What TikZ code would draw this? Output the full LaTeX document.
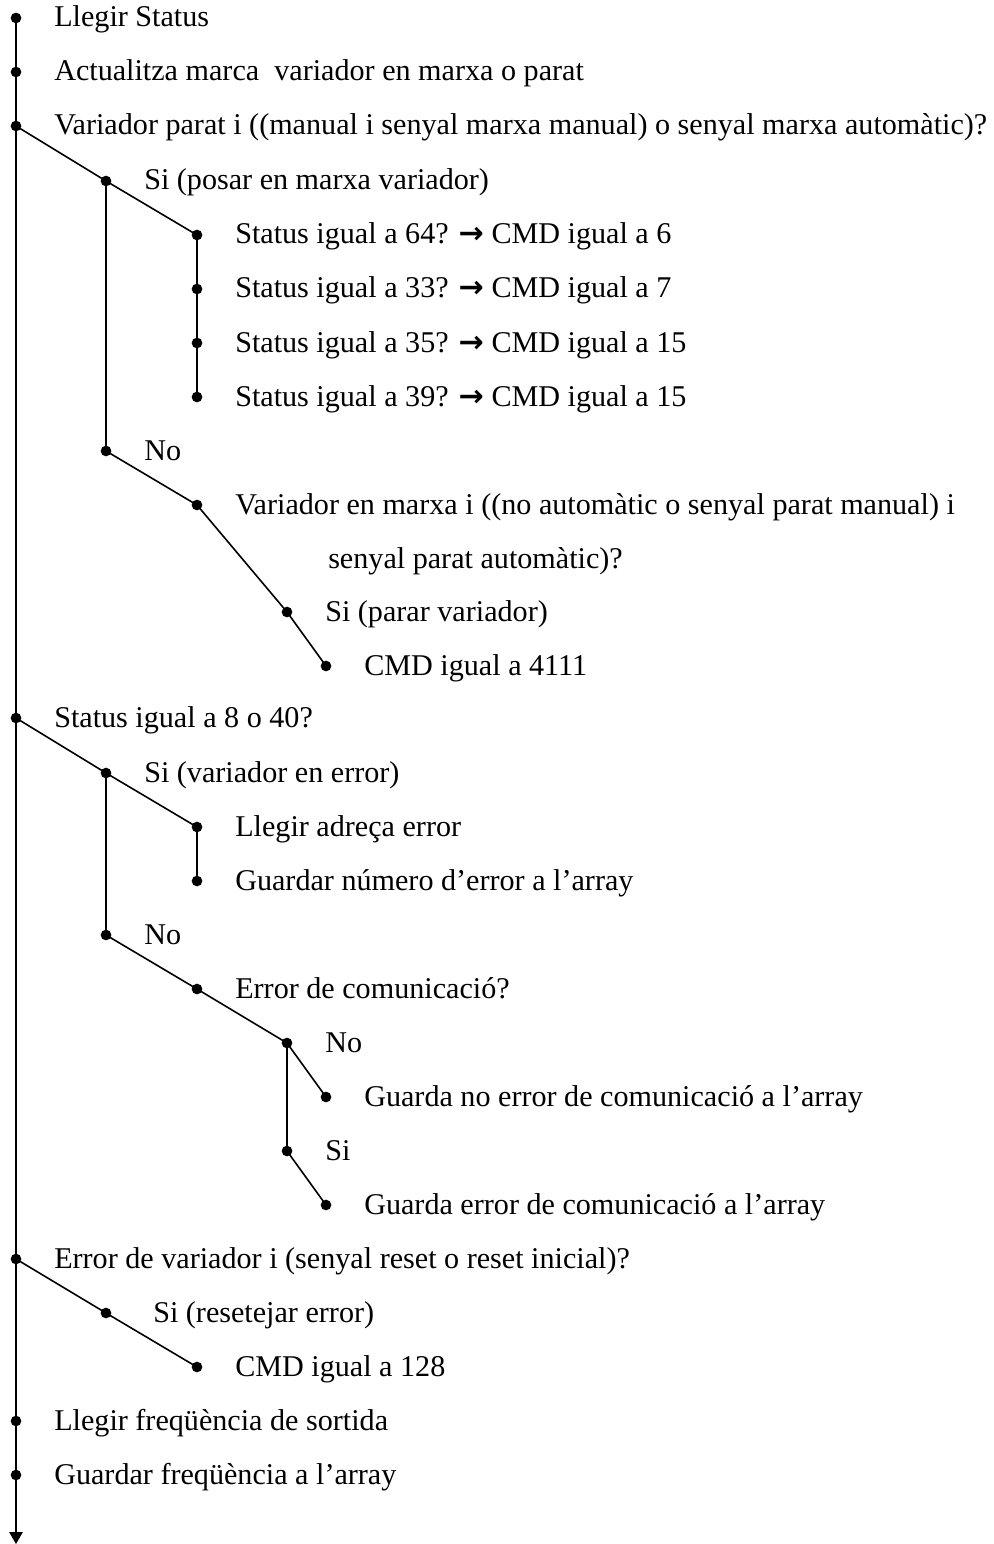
\documentclass[tikz,border=0pt]{standalone}
\usepackage{fontspec}
\setmainfont{Liberation Serif}
\newfontfamily\arrowfont{DejaVu Sans}
\usetikzlibrary{arrows.meta}
\tikzset{
  dot/.style={circle, fill=black, inner sep=0pt, minimum size=8pt},
  lbl/.style={anchor=base west, inner sep=0pt, font=\fontsize{22.6}{27}\selectfont},
  link/.style={line width=1.2pt},
}
% arrow between a test and its command
\newcommand{\gives}{{\arrowfont\bfseries →}}
% one step of the sequence: a dot with its text to the right
\newcommand{\mitem}[4]{%
  \node[dot] (#1) at (#2,#3) {};
  \node[lbl] (#1t) at (#2+38,#3+9) {#4};}
\begin{document}
\begin{tikzpicture}[x=0.75pt, y=-0.75pt]
\useasboundingbox (0,0) rectangle (994,1544);

\mitem{a1}{16}{18}{Llegir Status}
\mitem{a2}{16}{72}{Actualitza marca\ \ variador en marxa o parat}
\mitem{a3}{16}{126}{Variador parat i ((manual i senyal marxa manual) o senyal marxa automàtic)?}
\mitem{b1}{106}{181}{Si (posar en marxa variador)}
\mitem{c1}{197}{235}{Status igual a 64? \gives{} CMD igual a 6}
\mitem{c2}{197}{289}{Status igual a 33? \gives{} CMD igual a 7}
\mitem{c3}{197}{343}{Status igual a 35? \gives{} CMD igual a 15}
\mitem{c4}{197}{397}{Status igual a 39? \gives{} CMD igual a 15}
\mitem{b2}{106}{451}{No}
\mitem{c5}{197}{505}{Variador en marxa i ((no automàtic o senyal parat manual) i}
\node[lbl] (c5u) at (328,568) {senyal parat automàtic)?};
\mitem{d1}{287}{612}{Si (parar variador)}
\mitem{e1}{326}{666}{CMD igual a 4111}

\mitem{a4}{16}{718}{Status igual a 8 o 40?}
\mitem{b3}{106}{773}{Si (variador en error)}
\mitem{c6}{197}{827}{Llegir adreça error}
\mitem{c7}{197}{881}{Guardar número d’error a l’array}
\mitem{b4}{106}{935}{No}
\mitem{c8}{197}{989}{Error de comunicació?}
\mitem{d2}{287}{1043}{No}
\mitem{e2}{326}{1097}{Guarda no error de comunicació a l’array}
\mitem{d3}{287}{1151}{Si}
\mitem{e3}{326}{1205}{Guarda error de comunicació a l’array}

\mitem{a5}{16}{1259}{Error de variador i (senyal reset o reset inicial)?}
\node[dot] (b5) at (106,1313) {};
\node[lbl] (b5t) at (153,1322) {Si (resetejar error)};
\mitem{c9}{197}{1367}{CMD igual a 128}
\mitem{a6}{16}{1421}{Llegir freqüència de sortida}
\mitem{a7}{16}{1475}{Guardar freqüència a l’array}
\coordinate (end) at (16,1544);

% main sequence line
\draw[link, line width=1.5pt, -{Triangle[width=10pt, length=9pt]}] (a1.center) -- (end);

% first decision
\draw[link] (a3.center) -- (b1.center) -- (c1.center) -- (c4.center);
\draw[link] (b1.center) -- (b2.center) -- (c5.center) -- (d1.center) -- (e1.center);

% error status decision
\draw[link] (a4.center) -- (b3.center) -- (c6.center) -- (c7.center);
\draw[link] (b3.center) -- (b4.center) -- (c8.center) -- (d2.center) -- (e2.center);
\draw[link] (d2.center) -- (d3.center) -- (e3.center);

% reset decision
\draw[link] (a5.center) -- (b5.center) -- (c9.center);
\end{tikzpicture}
\end{document}
